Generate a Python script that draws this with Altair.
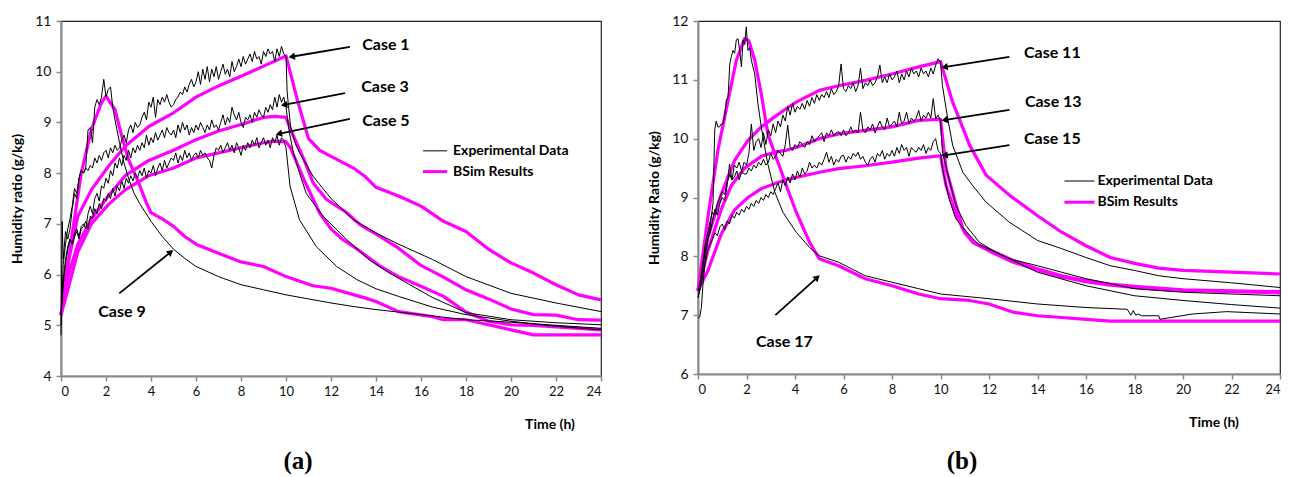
import math
import altair as alt
import pandas as pd

# ---------------- data: panel (a) ----------------
GRID_T = [round(0.1 * i, 1) for i in range(101)]  # sampling times 0..10 h

B1_T = [0, 0.3, 0.75, 1.35, 2.1, 2.85, 3.9, 5, 6, 7, 8, 9, 10, 10.5, 11.0, 11.5, 12, 13, 13.5, 14, 15, 16, 17, 18, 19, 20, 21, 22, 23, 24]
B1_V = [5.2, 6.2, 7.15, 7.67, 8.13, 8.53, 8.92, 9.19, 9.5, 9.72, 9.91, 10.11, 10.31, 9.45, 8.68, 8.45, 8.33, 8.1, 7.94, 7.72, 7.55, 7.35, 7.05, 6.85, 6.5, 6.23, 6.03, 5.8, 5.6, 5.5]

B3_T = [0, 0.3, 0.75, 1.35, 2.1, 2.85, 3.9, 5, 6, 7, 8, 9, 9.5, 10, 10.2, 10.8, 11.2, 11.8, 12.7, 13.3, 14, 15, 16, 17, 18, 19, 20, 21, 22, 23, 24]
B3_V = [5.2, 5.96, 6.6, 7.1, 7.55, 7.95, 8.25, 8.45, 8.66, 8.83, 8.96, 9.1, 9.12, 9.1, 8.86, 8.27, 7.81, 7.48, 7.22, 6.98, 6.8, 6.52, 6.18, 5.95, 5.7, 5.52, 5.32, 5.21, 5.2, 5.11, 5.1]

B5_T = [0, 0.3, 0.75, 1.35, 2.1, 2.85, 3.9, 5, 6, 7, 8, 9, 9.5, 10, 10.2, 10.8, 11.5, 12, 12.5, 13.2, 14.2, 15, 16, 17, 18, 19, 20, 21, 22, 23, 24]
B5_V = [5.2, 5.7, 6.45, 7.0, 7.38, 7.67, 7.95, 8.1, 8.3, 8.4, 8.5, 8.6, 8.63, 8.62, 8.5, 7.87, 7.21, 6.9, 6.7, 6.49, 6.16, 5.96, 5.77, 5.57, 5.26, 5.08, 5.01, 5.0, 4.97, 4.94, 4.91]

B9_T = [0, 0.46, 0.9, 1.35, 1.8, 2.0, 2.4, 2.7, 3.0, 3.45, 3.8, 4.0, 4.5, 5, 5.5, 6, 7, 8, 9, 10, 11.2, 12, 13.5, 14, 15, 16.5, 17, 18, 19, 20, 21, 24]
B9_V = [5.2, 6.69, 8.0, 8.86, 9.39, 9.52, 9.25, 8.73, 8.27, 7.81, 7.41, 7.22, 7.1, 6.95, 6.75, 6.6, 6.42, 6.25, 6.16, 5.96, 5.78, 5.73, 5.54, 5.47, 5.27, 5.17, 5.11, 5.11, 5.01, 4.91, 4.81, 4.81]

E1_GRID = [5.0, 6.2, 6.6, 6.9, 7.1, 7.35, 7.7, 7.6, 7.9, 8.05,
           8.0, 8.1, 8.05, 8.15, 8.1, 8.3, 8.2, 8.35, 8.25, 8.4,
           8.45, 8.3, 8.5, 8.4, 8.55, 8.45, 8.5, 8.65, 8.75, 8.6,
           8.85, 8.95, 8.8, 9.0, 8.9, 8.95, 9.1, 9.2, 9.05, 9.4,
           9.3, 9.5, 9.1, 9.45, 9.35, 9.5, 9.4, 9.55, 9.4, 9.3,
           9.35, 9.45, 9.5, 9.6, 9.55, 9.7, 9.6, 9.75, 9.85, 9.7,
           9.8, 10.0, 9.75, 10.05, 9.85, 10.1, 9.8, 10.05, 9.9, 10.1,
           9.85, 10.0, 10.15, 9.95, 10.05, 9.9, 10.2, 10.0, 10.1, 10.25,
           10.1, 10.3, 10.15, 10.25, 10.35, 10.2, 10.4, 10.25, 10.3, 10.15,
           10.4, 10.3, 10.45, 10.35, 10.4, 10.2, 10.45, 10.3, 10.5, 10.35,
           10.3]
E1_TAIL_T = [10.05, 10.2, 10.4, 10.6, 11.2, 12.0, 13.0, 14.0, 15.0, 16.5, 18.0, 20.0, 22.0, 24.0]
E1_TAIL_V = [9.6, 8.93, 8.6, 8.4, 7.94, 7.5, 7.08, 6.82, 6.6, 6.3, 5.96, 5.63, 5.44, 5.27]

E3_GRID = [5.2, 5.8, 6.2, 6.5, 6.7, 6.6, 6.8, 6.9, 6.75, 6.95,
           7.0, 6.9, 7.2, 7.35, 7.2, 7.5, 7.6, 7.45, 7.75, 7.7,
           7.9, 7.8, 8.05, 7.95, 8.2, 8.1, 8.3, 8.15, 8.35, 8.25,
           8.45, 8.3, 8.5, 8.4, 8.55, 8.45, 8.6, 8.5, 8.75, 8.55,
           8.7, 8.6, 8.8, 8.65, 8.75, 8.85, 8.7, 8.9, 8.8, 8.75,
           8.85, 8.7, 8.95, 8.8, 9.0, 8.85, 8.95, 8.75, 8.9, 8.8,
           8.95, 8.85, 9.0, 8.9, 8.8, 8.95, 8.85, 9.05, 8.9, 8.95,
           8.85, 9.0, 9.15, 8.95, 9.1, 9.0, 9.3, 9.15, 9.05, 9.2,
           9.0, 8.9, 9.1, 9.05, 9.15, 9.0, 9.2, 9.1, 9.25, 9.15,
           9.1, 9.3, 9.2, 9.35, 9.25, 9.5, 9.3, 9.55, 9.4, 9.5,
           9.3]
E3_TAIL_T = [10.15, 10.33, 10.6, 10.9, 11.65, 12.7, 13.7, 14.6, 15.5, 16.5, 18, 20, 22, 24]
E3_TAIL_V = [8.8, 8.4, 8.0, 7.6, 7.15, 6.69, 6.29, 6.03, 5.8, 5.55, 5.25, 5.11, 5.05, 5.01]

E5_GRID = [5.2, 5.9, 6.3, 6.55, 6.7, 6.6, 6.75, 6.85, 6.7, 6.9,
           6.95, 7.05, 6.9, 7.15, 7.1, 7.3, 7.2, 7.4, 7.3, 7.5,
           7.45, 7.6, 7.5, 7.7, 7.55, 7.75, 7.65, 7.85, 7.7, 7.9,
           7.8, 7.95, 7.85, 8.0, 7.9, 8.05, 7.95, 8.1, 7.9, 8.05,
           8.0, 8.15, 7.95, 8.1, 8.2, 8.05, 8.25, 8.1, 8.2, 8.3,
           8.25, 8.4, 8.2, 8.35, 8.25, 8.45, 8.3, 8.4, 8.25, 8.35,
           8.4, 8.3, 8.45, 8.35, 8.4, 8.3, 8.25, 8.1, 8.35, 8.5,
           8.45, 8.55, 8.4, 8.5, 8.6, 8.45, 8.55, 8.4, 8.6, 8.5,
           8.35, 8.55, 8.45, 8.6, 8.5, 8.65, 8.55, 8.7, 8.5, 8.6,
           8.7, 8.55, 8.65, 8.5, 8.7, 8.6, 8.75, 8.55, 8.7, 8.65,
           8.5]
E5_TAIL_T = [10.18, 10.6, 11.35, 12.25, 13.15, 14, 15, 16.5, 18, 20, 22, 24]
E5_TAIL_V = [7.74, 7.08, 6.55, 6.16, 5.9, 5.72, 5.57, 5.36, 5.21, 5.08, 4.98, 4.91]

E9_T = [0, 0.05, 0.1, 0.2, 0.3, 0.4, 0.5, 0.6, 0.7, 0.8, 0.9, 1.0, 1.1, 1.2, 1.3, 1.4, 1.5, 1.6, 1.7, 1.8, 1.9, 2.0, 2.1, 2.2, 2.3, 2.4, 2.6, 2.8, 3.0, 3.25, 3.5, 4.0, 4.5, 5.0, 5.5, 6.0, 7.0, 8.0, 9.0, 10.0, 11.0, 12.0, 13.0, 14.0, 16.0, 18.0, 20.0, 22.0, 24.0]
E9_V = [4.8, 7.05, 6.3, 6.85, 6.7, 6.9, 7.3, 7.6, 7.5, 7.9, 8.05, 8.0, 8.1, 8.85, 8.9, 8.6, 9.3, 9.45, 9.35, 9.5, 9.85, 9.5, 9.65, 9.7, 9.3, 9.05, 8.6, 8.2, 7.9, 7.6, 7.4, 7.05, 6.75, 6.5, 6.32, 6.16, 5.96, 5.8, 5.7, 5.6, 5.52, 5.44, 5.37, 5.31, 5.21, 5.11, 5.06, 5.0, 4.94]

# ---------------- data: panel (b) ----------------
B11_T = [0, 0.41, 0.96, 1.51, 2.06, 2.61, 3.16, 3.6, 4.05, 5, 5.8, 6.9, 8, 9.1, 10, 10.5, 11.2, 11.88, 12.84, 14, 15, 16, 17, 18, 19, 20, 22, 24]
B11_V = [7.42, 8.33, 9.06, 9.63, 9.97, 10.2, 10.37, 10.5, 10.62, 10.82, 10.9, 10.99, 11.1, 11.22, 11.31, 10.62, 9.89, 9.38, 9.04, 8.69, 8.41, 8.18, 7.98, 7.88, 7.8, 7.76, 7.73, 7.7]

B13_T = [0, 0.41, 0.96, 1.37, 1.92, 2.61, 3.16, 3.6, 4.05, 5, 5.8, 6.9, 8, 9.1, 10, 10.23, 10.65, 10.92, 11.33, 12.2, 13, 14, 15, 16, 17, 18, 19, 20, 24]
B13_V = [7.42, 8.1, 8.8, 9.2, 9.5, 9.7, 9.77, 9.8, 9.85, 10.0, 10.08, 10.14, 10.2, 10.31, 10.33, 9.49, 8.86, 8.47, 8.24, 8.08, 7.93, 7.79, 7.67, 7.59, 7.53, 7.49, 7.46, 7.43, 7.4]

B15_T = [0, 0.41, 0.96, 1.51, 2.06, 2.61, 3.6, 5, 5.8, 6.9, 8, 9.1, 10, 10.23, 10.65, 11.0, 11.4, 12.2, 13, 14, 15, 16, 17, 18, 19, 20, 24]
B15_V = [7.42, 7.76, 8.38, 8.79, 9.0, 9.15, 9.3, 9.43, 9.49, 9.54, 9.6, 9.67, 9.71, 9.2, 8.7, 8.4, 8.22, 8.05, 7.9, 7.77, 7.65, 7.57, 7.51, 7.47, 7.44, 7.42, 7.38]

B17_T = [0, 0.41, 0.82, 1.24, 1.58, 1.92, 2.1, 2.34, 2.61, 2.88, 3.16, 3.43, 3.6, 4.05, 4.6, 5.0, 5.8, 6.9, 8, 9.1, 10, 11.2, 12, 13, 14, 15, 16, 17, 24]
B17_V = [7.42, 8.67, 9.8, 10.65, 11.33, 11.7, 11.66, 11.33, 10.76, 10.08, 9.75, 9.45, 9.25, 8.75, 8.24, 7.96, 7.84, 7.62, 7.5, 7.36, 7.28, 7.25, 7.19, 7.05, 6.99, 6.96, 6.93, 6.9, 6.9]

E11_GRID = [7.4, 7.6, 7.9, 8.2, 8.4, 8.6, 8.75, 8.7, 8.9, 9.0,
            9.1, 9.05, 9.25, 9.4, 9.3, 9.55, 9.5, 9.6, 9.45, 9.6,
            9.55, 9.75, 10.25, 9.8, 9.95, 10.0, 9.85, 10.1, 9.9, 10.15,
            10.05, 10.25, 10.1, 10.3, 10.2, 10.4, 10.3, 10.55, 10.4, 10.6,
            10.45, 10.55, 10.5, 10.6, 10.5, 10.65, 10.55, 10.7, 10.6, 10.75,
            10.65, 10.75, 10.7, 10.8, 10.7, 10.85, 10.75, 10.8, 10.9, 11.27,
            10.85, 10.8, 10.9, 10.85, 10.95, 10.8, 10.9, 11.2, 10.85, 10.95,
            10.9, 11.0, 10.9, 10.95, 11.05, 11.25, 10.95, 11.05, 10.95, 11.1,
            11.0, 11.05, 11.15, 10.95, 11.1, 11.0, 11.15, 11.05, 11.2, 11.1,
            11.15, 11.05, 11.2, 11.1, 11.15, 11.05, 11.2, 11.1, 11.25, 11.36,
            11.3]
E11_TAIL_T = [10.08, 10.3, 10.5, 10.92, 11.33, 11.88, 12.84, 14, 15, 16, 17, 18, 19, 20, 22, 24]
E11_TAIL_V = [10.9, 10.34, 9.89, 9.43, 9.2, 8.92, 8.58, 8.27, 8.13, 7.98, 7.84, 7.76, 7.67, 7.62, 7.55, 7.47]

E13_GRID = [7.3, 7.5, 7.8, 8.1, 8.3, 8.4, 8.6, 8.8, 8.7, 8.9,
            9.0, 8.95, 9.2, 9.57, 9.3, 9.35, 9.45, 9.3, 9.45, 9.4,
            9.4, 9.5, 9.45, 9.55, 9.5, 9.6, 9.55, 9.65, 9.55, 9.6,
            9.75, 9.65, 9.7, 9.8, 9.75, 9.7, 9.9, 10.23, 9.85, 9.8,
            9.9, 9.85, 9.95, 9.9, 9.85, 9.95, 9.9, 10.05, 9.95, 10.0,
            10.05, 10.1, 9.95, 10.1, 10.05, 10.15, 10.05, 10.1, 10.12, 10.05,
            10.15, 10.05, 10.1, 10.2, 10.1, 10.15, 10.1, 10.45, 10.15, 10.1,
            10.2, 10.15, 10.25, 10.1, 10.2, 10.3, 10.2, 10.15, 10.35, 10.2,
            10.25, 10.3, 10.2, 10.45, 10.25, 10.3, 10.45, 10.25, 10.35, 10.3,
            10.35, 10.48, 10.3, 10.4, 10.35, 10.45, 10.35, 10.68, 10.34, 10.4,
            10.3]
E13_TAIL_T = [10.08, 10.35, 10.63, 11.04, 11.6, 12.28, 12.84, 14, 16, 18, 20, 22, 24]
E13_TAIL_V = [9.77, 9.32, 8.87, 8.53, 8.24, 8.07, 7.96, 7.84, 7.62, 7.45, 7.39, 7.36, 7.33]

E15_GRID = [7.3, 7.45, 7.7, 7.9, 8.1, 8.2, 8.3, 8.4, 8.35, 8.5,
            8.55, 8.45, 8.6, 8.55, 8.7, 8.65, 8.75, 8.7, 8.8, 8.75,
            8.85, 8.8, 8.9, 8.85, 8.95, 8.9, 9.0, 8.95, 9.05, 9.0,
            9.1, 9.05, 9.15, 9.25, 9.1, 9.3, 9.2, 9.35, 9.25, 9.4,
            9.3, 9.45, 9.35, 9.5, 9.4, 9.45, 9.6, 9.5, 9.55, 9.5,
            9.6, 9.55, 9.65, 9.77, 9.6, 9.7, 9.55, 9.65, 9.6, 9.7,
            9.72, 9.6, 9.7, 9.65, 9.75, 9.7, 9.77, 9.65, 9.7, 9.6,
            9.55, 9.65, 9.7, 9.6, 9.75, 9.7, 9.8, 9.65, 9.75, 9.7,
            9.8, 9.7, 9.85, 9.75, 9.9, 9.8, 9.85, 9.7, 9.85, 9.8,
            9.77, 9.85, 9.8, 9.9, 9.75, 9.85, 9.8, 9.95, 10.0, 9.8,
            9.75]
E15_TAIL_T = [10.08, 10.35, 10.63, 11.04, 11.6, 12.28, 14, 16, 18, 20, 22, 24]
E15_TAIL_V = [9.49, 8.98, 8.64, 8.43, 8.19, 8.07, 7.73, 7.5, 7.33, 7.25, 7.18, 7.12]

E17_T = [0, 0.07, 0.14, 0.2, 0.34, 0.48, 0.62, 0.69, 0.75, 0.82, 0.89, 0.96, 1.03, 1.1, 1.17, 1.24, 1.31, 1.38, 1.44, 1.51, 1.58, 1.65, 1.72, 1.79, 1.86, 1.93, 1.99, 2.06, 2.13, 2.2, 2.34, 2.47, 2.61, 2.75, 2.88, 3.16, 3.5, 4.05, 4.6, 5.0, 5.8, 6.9, 8.0, 9.1, 10.0, 11, 12, 14, 16, 17.7, 17.85, 17.95, 18.05, 18.15, 18.3, 19.0, 19.05, 20.4, 21.8, 24]
E17_V = [6.95, 6.97, 7.13, 7.5, 8.1, 8.45, 8.9, 10.15, 10.3, 10.2, 10.2, 10.25, 10.25, 10.4, 10.66, 10.7, 11.27, 11.4, 11.5, 11.45, 11.68, 11.7, 11.5, 11.22, 11.68, 11.6, 11.9, 11.5, 11.55, 11.33, 11.1, 10.6, 10.2, 9.86, 9.57, 9.1, 8.75, 8.41, 8.15, 8.01, 7.9, 7.67, 7.56, 7.45, 7.36, 7.32, 7.28, 7.19, 7.13, 7.1, 7.0, 7.08, 7.0, 7.02, 6.99, 6.99, 6.93, 7.02, 7.06, 7.02]

# ---------------- annotations ----------------
A_LABELS = ["Case 1", "Case 3", "Case 5", "Case 9"]
A_LABEL_T = [14.44, 14.4, 14.44, 2.71]
A_LABEL_V = [10.52, 9.69, 9.02, 5.26]
A_ARROW_T1 = [12.84, 12.62, 12.84, 2.59]
A_ARROW_V1 = [10.49, 9.58, 9.07, 5.63]
A_ARROW_T2 = [10.3, 9.96, 9.73, 4.84]
A_ARROW_V2 = [10.30, 9.35, 8.78, 6.43]

B_LABELS = ["Case 11", "Case 13", "Case 15", "Case 17"]
B_LABEL_T = [14.61, 14.65, 14.61, 3.56]
B_LABEL_V = [11.46, 10.62, 9.99, 6.54]
B_ARROW_T1 = [12.84, 12.84, 12.84, 3.19]
B_ARROW_V1 = [11.39, 10.49, 9.89, 7.0]
B_ARROW_T2 = [10.21, 10.21, 10.21, 4.89]
B_ARROW_V2 = [11.22, 10.32, 9.72, 7.63]

LEGEND_NAMES = ["Experimental Data", "BSim Results"]
LEGEND_COLORS = ["black", "#ff00ff"]
LEGEND_WIDTHS = [1, 3]
A_LEG_T = [16.09, 17.16, 17.38]
A_LEG_V = [8.44, 8.03]
B_LEG_T = [15.11, 16.35, 16.43]
B_LEG_V = [9.28, 8.92]

MAGENTA = "#ff00ff"
FONT = "Lato"


def curve_rows(series, kind, ts, vs):
    return [{"series": series, "kind": kind, "t": t, "v": v, "i": k}
            for k, (t, v) in enumerate(zip(ts, vs))]


rows_a = (curve_rows("B1", "bsim", B1_T, B1_V) + curve_rows("B3", "bsim", B3_T, B3_V)
          + curve_rows("B5", "bsim", B5_T, B5_V) + curve_rows("B9", "bsim", B9_T, B9_V)
          + curve_rows("E1", "exp", GRID_T + E1_TAIL_T, E1_GRID + E1_TAIL_V)
          + curve_rows("E3", "exp", GRID_T + E3_TAIL_T, E3_GRID + E3_TAIL_V)
          + curve_rows("E5", "exp", GRID_T + E5_TAIL_T, E5_GRID + E5_TAIL_V)
          + curve_rows("E9", "exp", E9_T, E9_V))
rows_b = (curve_rows("B11", "bsim", B11_T, B11_V) + curve_rows("B13", "bsim", B13_T, B13_V)
          + curve_rows("B15", "bsim", B15_T, B15_V) + curve_rows("B17", "bsim", B17_T, B17_V)
          + curve_rows("E11", "exp", GRID_T + E11_TAIL_T, E11_GRID + E11_TAIL_V)
          + curve_rows("E13", "exp", GRID_T + E13_TAIL_T, E13_GRID + E13_TAIL_V)
          + curve_rows("E15", "exp", GRID_T + E15_TAIL_T, E15_GRID + E15_TAIL_V)
          + curve_rows("E17", "exp", E17_T, E17_V))


def panel(rows, ymin, ymax, W, H, ytitle, labels, lt, lv, at1, av1, at2, av2,
          leg_t, leg_v, time_xy, letter, letter_x):
    sx = alt.Scale(domain=[0, 24], nice=False, zero=False)
    sy = alt.Scale(domain=[ymin, ymax], nice=False, zero=False)
    ax = alt.Axis(values=list(range(0, 25, 2)), title=None, labelFontSize=13,
                  labelPadding=4, format="d")
    ay = alt.Axis(values=list(range(ymin, ymax + 1)), title=ytitle, titleX=-37,
                  titleY=H / 2, titleAngle=270, labelPadding=5, format="d")

    def X(f):
        return alt.X(f, type="quantitative", scale=sx, axis=ax)

    def Y(f):
        return alt.Y(f, type="quantitative", scale=sy, axis=ay)

    df = pd.DataFrame(rows)
    bsim = alt.Chart(df[df.kind == "bsim"]).mark_line(
        color=MAGENTA, strokeWidth=3.2, strokeJoin="round").encode(
        x=X("t"), y=Y("v"), detail="series:N", order="i:Q")
    exp = alt.Chart(df[df.kind == "exp"]).mark_line(
        color="black", strokeWidth=1).encode(
        x=X("t"), y=Y("v"), detail="series:N", order="i:Q")

    kx = W / 24.0
    ky = H / float(ymax - ymin)
    arr = pd.DataFrame({"t": at1, "v": av1, "t2": at2, "v2": av2})
    arr["ang"] = [math.degrees(math.atan2((b2 - b1) * kx, (c2 - c1) * ky)) % 360
                  for b1, c1, b2, c2 in zip(at1, av1, at2, av2)]
    rule = alt.Chart(arr).mark_rule(color="black", strokeWidth=1.8).encode(
        x=X("t"), y=Y("v"), x2="t2:Q", y2="v2:Q")
    heads = alt.Chart(arr).mark_point(shape="triangle", filled=True, size=55,
                                      color="black", opacity=1).encode(
        x=X("t2"), y=Y("v2"), angle=alt.Angle("ang:Q", scale=None))

    lab = pd.DataFrame({"label": labels, "t": lt, "v": lv})
    texts = alt.Chart(lab).mark_text(font=FONT, fontSize=16, fontWeight="bold",
                                     color="black").encode(
        x=X("t"), y=Y("v"), text="label:N")

    leg = pd.DataFrame({"name": LEGEND_NAMES, "color": LEGEND_COLORS, "w": LEGEND_WIDTHS,
                        "t": [leg_t[0]] * 2, "t2": [leg_t[1]] * 2, "tt": [leg_t[2]] * 2,
                        "v": leg_v})
    leg_rule = alt.Chart(leg).mark_rule().encode(
        x=X("t"), x2="t2:Q", y=Y("v"),
        color=alt.Color("color:N", scale=None),
        strokeWidth=alt.StrokeWidth("w:Q", scale=None))
    leg_text = alt.Chart(leg).mark_text(font=FONT, fontSize=14, fontWeight="bold",
                                        align="left", dx=1, color="black").encode(
        x=X("tt"), y=Y("v"), text="name:N")

    time_t = alt.Chart(pd.DataFrame({"s": ["Time (h)"]})).mark_text(
        font=FONT, fontSize=14, fontWeight="bold", color="black").encode(
        x=alt.value(time_xy[0]), y=alt.value(time_xy[1]), text="s:N")
    letter_t = alt.Chart(pd.DataFrame({"s": [letter]})).mark_text(
        font="Liberation Serif", fontSize=25, fontWeight="bold", color="black").encode(
        x=alt.value(letter_x), y=alt.value(440), text="s:N")

    return alt.layer(bsim, exp, rule, heads, texts, leg_rule, leg_text, time_t,
                     letter_t).properties(width=W, height=H)


left = panel(rows_a, 4, 11, 540, 355, "Humidity ratio (g/kg)", A_LABELS, A_LABEL_T,
             A_LABEL_V, A_ARROW_T1, A_ARROW_V1, A_ARROW_T2, A_ARROW_V2,
             A_LEG_T, A_LEG_V, (489, 404), "(a)", 237)
right = panel(rows_b, 6, 12, 582, 353, "Humidity Ratio (g/kg)", B_LABELS, B_LABEL_T,
              B_LABEL_V, B_ARROW_T1, B_ARROW_V1, B_ARROW_T2, B_ARROW_V2,
              B_LEG_T, B_LEG_V, (516, 402), "(b)", 264)

chart = alt.hconcat(left, right, spacing=97, bounds="flush").properties(
    padding={"left": 9, "top": 13, "right": 5, "bottom": 0},
    background="white",
).configure_axis(
    labelFont=FONT, labelFontSize=14, labelColor="#111", grid=False,
    domainColor="#8a8a8a", domainWidth=2, tickColor="#8a8a8a", tickWidth=1.5,
    tickSize=5, titleFont=FONT, titleFontSize=14, titleFontWeight="bold",
    titleColor="black", zindex=1,
).configure_view(stroke="#222", strokeWidth=1.2)

chart.save("out.html", embed_options={"renderer": "svg", "actions": False})
